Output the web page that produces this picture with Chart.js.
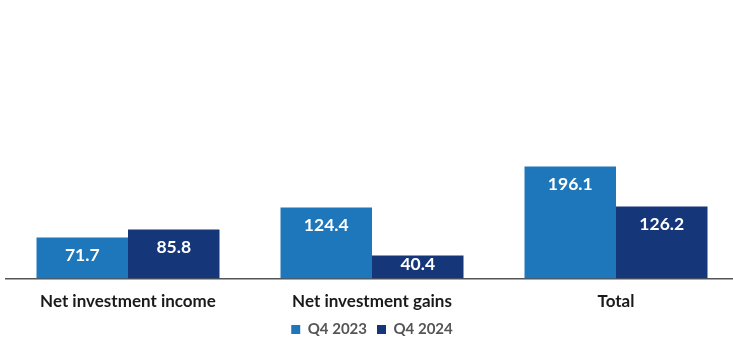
<!DOCTYPE html>
<html>
<head>
<meta charset="utf-8">
<script src="https://cdn.jsdelivr.net/npm/chart.js@4.4.1/dist/chart.umd.min.js"></script>
<style>
	html, body { margin: 0; padding: 0; background: #fff; overflow: hidden; }
	#wrap { width: 738px; height: 343px; position: relative; }
</style>
</head>
<body>
<div id="wrap"><canvas id="incomeChart"></canvas></div>
<script>
const categories = ['Net investment income', 'Net investment gains', 'Total'];
const seriesNames = ['Q4 2023', 'Q4 2024'];
const q4_2023 = [71.7, 124.4, 196.1];
const q4_2024 = [85.8, 40.4, 126.2];

// White value labels sitting just inside the top of each bar
const barLabels = {
	id: 'barLabels',
	afterDatasetsDraw(chart) {
		const ctx = chart.ctx;
		ctx.save();
		ctx.fillStyle = '#ffffff';
		ctx.font = 'bold 17.5px Lato';
		ctx.textAlign = 'center';
		ctx.textBaseline = 'middle';
		chart.data.datasets.forEach((ds, i) => {
			chart.getDatasetMeta(i).data.forEach((bar, j) => {
				const mid = (bar.y + bar.base) / 2;
				const y = Math.min(bar.y + 18, mid - 3);
				ctx.fillText(ds.data[j].toFixed(1), bar.x, y);
			});
		});
		ctx.restore();
	}
};

new Chart(document.getElementById('incomeChart'), {
	type: 'bar',
	data: {
		labels: categories,
		datasets: [
			{label: seriesNames[0], data: q4_2023, backgroundColor: '#1f77bb'},
			{label: seriesNames[1], data: q4_2024, backgroundColor: '#16367a'}
		]
	},
	options: {
		responsive: true,
		maintainAspectRatio: false,
		animation: false,
		layout: {padding: {top: 50, left: 6, right: 0, bottom: -4}},
		datasets: {
			bar: {categoryPercentage: 0.75, barPercentage: 1.0}
		},
		scales: {
			x: {
				grid: {display: false, drawTicks: true, tickLength: 13},
				border: {display: true, color: '#555555', width: 1.5},
				ticks: {color: '#1a1a1a', font: {family: 'Lato', size: 17, weight: 'bold'}, padding: 0}
			},
			y: {
				display: false,
				min: 0,
				max: 400
			}
		},
		plugins: {
			legend: {
				position: 'bottom',
				labels: {
					boxWidth: 9,
					boxHeight: 9,
					padding: 10,
					color: '#555555',
					font: {family: 'Lato', size: 15, weight: 'bold'}
				}
			},
			tooltip: {enabled: false}
		}
	},
	plugins: [barLabels]
});
</script>
</body>
</html>
